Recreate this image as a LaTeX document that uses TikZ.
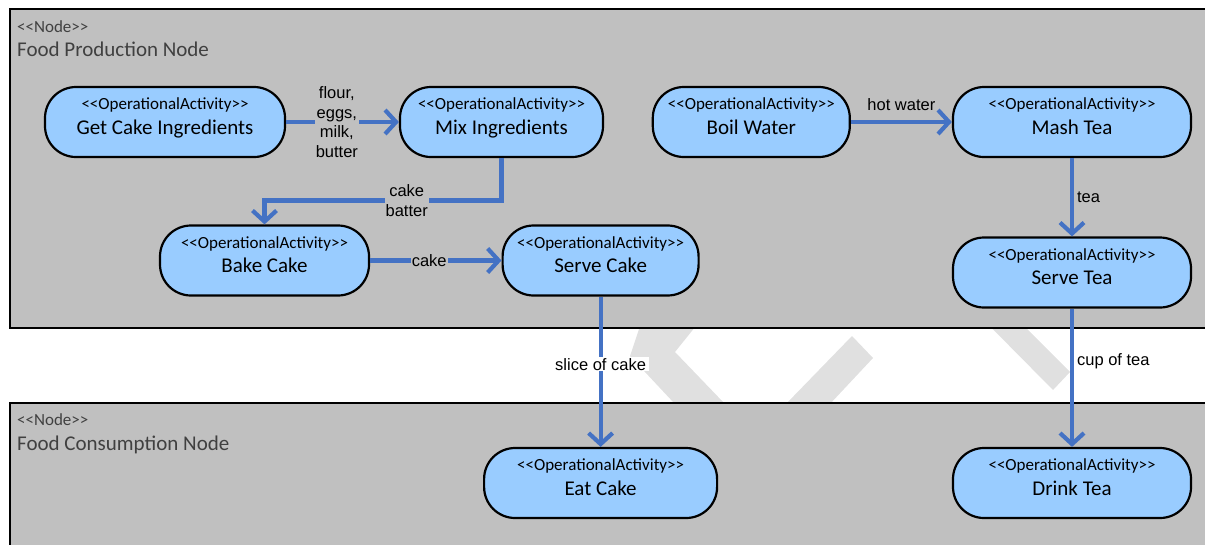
\documentclass[tikz,border=0pt]{standalone}
\usepackage{fontspec}
\setmainfont{Carlito}
\newfontfamily\arialfont{Liberation Sans}
\usepackage{tikz}
\usetikzlibrary{positioning}
\usetikzlibrary{arrows.meta}

\definecolor{nodegray}{HTML}{C0C0C0}
\definecolor{actblue}{HTML}{99CCFF}
\definecolor{flowblue}{HTML}{4472C4}
\definecolor{titlegray}{HTML}{404040}
\definecolor{markgray}{HTML}{E0E0E0}

\newcommand{\stereo}[1]{{\fontsize{17}{20}\selectfont\rule{0pt}{12pt}{<}{<}#1{>}{>}}}

\begin{document}
\begin{tikzpicture}[x=1pt, y=-1pt,
    container/.style={draw, line width=2.4pt, fill=nodegray, rectangle, anchor=north west, inner sep=0pt},
    nodetitle/.style={anchor=base west, inner sep=0pt, text=titlegray},
    activity/.style={draw, line width=2.2pt, fill=actblue, rounded corners=31pt, minimum height=70pt,
        align=center, inner sep=0pt, font=\fontsize{21}{24.5}\selectfont,
        execute at end node={\rule[-12.5pt]{0pt}{12.5pt}}},
    flow/.style={draw=flowblue, line width=4.2pt, -{Straight Barb[length=11pt,width=24pt]}},
    flowlabel/.style={font=\arialfont\fontsize{16.5}{19.5}\selectfont, align=center, inner sep=1pt, fill=nodegray}]
    \useasboundingbox (0,0) rectangle (1205,544);
    \clip (0,0) rectangle (1205,544);

    % watermark pieces in the gap
    \fill[markgray] (650,296) -- (720,296) -- (675,352) -- (724,403) -- (674,403) -- (630,356) -- cycle;
    \fill[markgray] (785,405) -- (852,336) -- (873,358) -- (829,405) -- cycle;
    \fill[markgray] (964,300) -- (998,300) -- (1070,372) -- (1053,390) -- cycle;

    % the two operational nodes
    \node at (9,8) [container, minimum width=1210pt, minimum height=318.5pt] (prodnode) {};
    \node at (17,32.3) [nodetitle] (prodstereo) {\stereo{Node}};
    \node at (17,56) [nodetitle, font=\fontsize{21}{24}\selectfont] (prodname) {Food Production Node};

    \node at (9,401.5) [container, minimum width=1210pt, minimum height=160pt] (consnode) {};
    \node at (17,425) [nodetitle] (consstereo) {\stereo{Node}};
    \node at (17,450.5) [nodetitle, font=\fontsize{21}{24}\selectfont] (consname) {Food Consumption Node};

    % the activities
    \node at (165,122) [activity, minimum width=240pt] (getcake) {\stereo{OperationalActivity}\\Get Cake Ingredients};
    \node at (501.5,122) [activity, minimum width=203pt] (mix) {\stereo{OperationalActivity}\\Mix Ingredients};
    \node at (751.3,122) [activity, minimum width=197pt] (boil) {\stereo{OperationalActivity}\\Boil Water};
    \node at (1072,122) [activity, minimum width=238pt] (mash) {\stereo{OperationalActivity}\\Mash Tea};
    \node at (264.5,260.5) [activity, minimum width=209pt] (bake) {\stereo{OperationalActivity}\\Bake Cake};
    \node at (600.6,260.5) [activity, minimum width=196pt] (servecake) {\stereo{OperationalActivity}\\Serve Cake};
    \node at (1072,272.5) [activity, minimum width=238pt] (servetea) {\stereo{OperationalActivity}\\Serve Tea};
    \node at (600.6,483) [activity, minimum width=233pt] (eatcake) {\stereo{OperationalActivity}\\Eat Cake};
    \node at (1072,483) [activity, minimum width=238pt] (drinktea) {\stereo{OperationalActivity}\\Drink Tea};

    % the flows and labels
    \draw[flow] (getcake) -- node[flowlabel, pos=0.45] (ingredlabel) {flour,\\eggs,\\milk,\\butter} (mix);
    \draw[flow] (mix.south) -- ++(0,42.3) -| node[flowlabel, pos=0.2] (batterlabel) {cake\\batter} (bake.north);
    \draw[flow] (bake) -- node[flowlabel, pos=0.45] (cakelabel) {cake} (servecake);
    \draw[flow] (boil) -- node[flowlabel, above=8pt, fill=none] (waterlabel) {hot water} (mash);
    \draw[flow] (mash) -- node[flowlabel, right=2pt, fill=none] (tealabel) {tea} (servetea);
    \draw[flow] (servecake) -- node[flowlabel, pos=0.45, fill=white, inner xsep=3pt] (slicelabel) {slice of cake} (eatcake);
    \draw[flow] (servetea) -- node[flowlabel, pos=0.38, right=2pt, fill=none] (cuplabel) {cup of tea} (drinktea);
\end{tikzpicture}
\end{document}
